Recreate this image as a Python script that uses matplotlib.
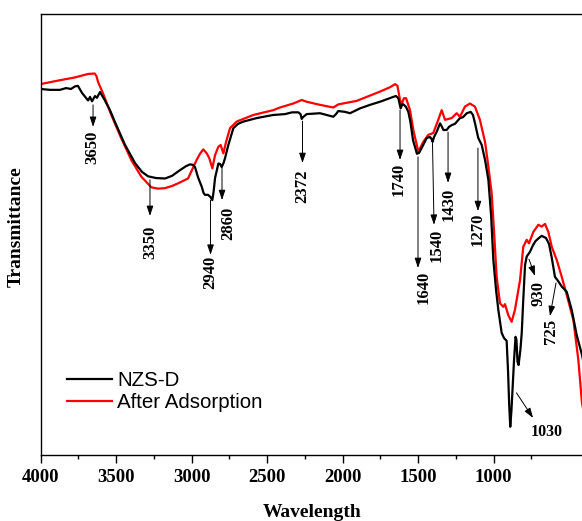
import numpy as np
import matplotlib.pyplot as plt

# FTIR spectra (wavenumber in cm-1, transmittance in arbitrary units)
wn_nzs = [4000, 3937, 3871, 3831, 3798, 3771, 3752, 3725, 3699, 3685, 3672, 3659,
          3639, 3626, 3606, 3575, 3540, 3507, 3440, 3374, 3328, 3288, 3235, 3175,
          3129, 3076, 3036, 3010, 2990, 2977, 2957, 2932, 2920, 2911, 2891, 2874,
          2862, 2854, 2844, 2822, 2811, 2800, 2788, 2778, 2756, 2723, 2692, 2657,
          2568, 2460, 2381, 2334, 2293, 2278, 2270, 2262, 2237, 2149, 2061, 2043,
          2028, 1983, 1950, 1884, 1818, 1752, 1705, 1664, 1646, 1630, 1615, 1603,
          1593, 1579, 1564, 1550, 1533, 1507, 1493, 1476, 1442, 1420, 1411, 1403,
          1394, 1376, 1354, 1341, 1332, 1310, 1295, 1277, 1255, 1222, 1202, 1177,
          1151, 1136, 1123, 1101, 1078, 1056, 1034, 1016, 1001, 983, 968, 946,
          930, 913, 904, 896, 889, 881, 873, 864, 854, 848, 841, 834, 822, 813,
          803, 791, 780, 758, 738, 722, 703, 681, 670, 652, 632, 614, 593, 573,
          548, 515, 482, 449, 414, 400]
t_nzs = [83.0, 82.8, 82.8, 83.2, 83.0, 83.6, 83.7, 82.1, 81.0, 80.4, 81.2, 80.2,
         81.4, 81.0, 82.3, 80.5, 78.2, 75.5, 70.3, 66.2, 64.2, 63.2, 62.8, 62.7,
         63.3, 64.6, 65.5, 65.9, 65.8, 65.3, 63.0, 60.8, 59.4, 59.0, 59.0, 58.5,
         57.8, 59.6, 62.8, 66.1, 66.0, 65.3, 66.2, 67.3, 70.3, 74.1, 75.1, 75.6,
         76.4, 77.1, 77.3, 77.7, 77.7, 77.3, 76.2, 76.6, 77.3, 77.5, 76.7, 77.3,
         78.0, 77.8, 77.5, 78.6, 79.4, 80.1, 80.7, 81.2, 81.4, 80.9, 78.6, 79.6,
         79.4, 78.9, 77.8, 75.5, 71.4, 68.3, 68.5, 69.6, 71.9, 72.1, 71.7, 71.0,
         72.1, 73.3, 75.2, 74.4, 73.7, 73.7, 74.4, 74.8, 75.1, 76.4, 76.6, 77.5,
         77.8, 77.1, 75.3, 71.9, 70.3, 66.9, 62.4, 54.4, 44.2, 37.4, 32.9, 27.7,
         26.5, 25.9, 19.3, 11.3, 6.4, 10.2, 15.5, 21.5, 26.8, 26.1, 21.1, 20.4,
         23.8, 27.7, 35.1, 43.1, 45.0, 46.1, 47.6, 48.5, 49.1, 49.7, 49.5, 49.2,
         47.8, 44.7, 40.4, 39.5, 38.2, 37.0, 32.9, 27.2, 22.7, 20.4]

wn_ads = [4000, 3884, 3774, 3685, 3641, 3629, 3619, 3586, 3531, 3465, 3399, 3332,
          3266, 3222, 3177, 3129, 3089, 3023, 2966, 2944, 2922, 2899, 2882, 2862,
          2844, 2822, 2807, 2789, 2771, 2745, 2701, 2591, 2458, 2414, 2326, 2270,
          2237, 2149, 2061, 2028, 1906, 1862, 1752, 1685, 1652, 1636, 1619, 1608,
          1593, 1579, 1553, 1531, 1498, 1465, 1432, 1399, 1366, 1343, 1321, 1277,
          1244, 1222, 1189, 1156, 1123, 1090, 1056, 1034, 1012, 997, 979, 957,
          935, 924, 902, 880, 858, 824, 803, 780, 765, 736, 703, 681, 659, 637,
          614, 581, 548, 515, 471, 438, 414, 400]
t_ads = [84.1, 84.9, 85.6, 86.4, 86.5, 85.9, 84.6, 82.0, 77.1, 71.8, 66.9, 63.1,
         60.7, 60.4, 60.5, 61.0, 61.6, 62.7, 66.9, 68.3, 69.3, 68.4, 67.3, 65.0,
         68.0, 69.9, 70.3, 68.4, 71.0, 74.1, 75.6, 77.1, 78.2, 78.8, 79.7, 80.5,
         80.1, 79.4, 78.8, 79.5, 80.3, 80.9, 82.4, 83.4, 84.1, 83.7, 80.5, 79.6,
         80.9, 80.9, 78.2, 73.7, 68.8, 71.0, 72.6, 73.0, 76.0, 78.2, 76.0, 76.4,
         77.5, 76.7, 79.0, 79.7, 79.0, 76.0, 71.0, 65.4, 59.3, 51.0, 40.4, 34.4,
         33.6, 34.2, 31.7, 30.2, 32.9, 39.7, 47.2, 48.8, 48.0, 50.6, 52.2, 51.8,
         52.4, 50.6, 47.2, 44.2, 40.4, 36.3, 30.6, 21.5, 11.8, 9.1]

# peak labels: text, arrow start (x, y), arrow end (x, y), text position (x, y), rotation
peak_labels = ["3650", "3350", "2940", "2860", "2372", "1740", "1640",
               "1540", "1430", "1270", "930", "725", "1030"]
arrow_start = [(3652, 79.4), (3275, 62.4), (2874, 57.8), (2798, 65.1), (2265, 75.7),
               (1619, 78.2), (1500, 67.6), (1404, 70.7), (1301, 73.2), (1103, 69.6),
               (765, 44.4), (586, 39.0), (848, 14.1)]
arrow_end = [(3652, 74.4), (3275, 54.2), (2874, 45.4), (2798, 57.8), (2265, 66.2),
             (1619, 66.9), (1500, 42.4), (1394, 52.2), (1301, 61.7), (1103, 55.3),
             (725, 40.6), (626, 31.5), (738, 8.4)]
label_pos = [(3659, 69.8), (3275, 48.3), (2877, 41.5), (2758, 52.6), (2268, 61.0),
             (1626, 62.6), (1460, 37.9), (1374, 47.6), (1295, 56.9), (1103, 51.2),
             (702, 36.7), (619, 28.1), (646, 5.2)]
label_rot = [90] * 12 + [0]

SERIF = "Liberation Serif"

fig = plt.figure(figsize=(5.82, 5.21), dpi=100)
ax = fig.add_axes([40.5 / 582, 66 / 521, 543.6 / 582, 441 / 521])

ax.plot(wn_nzs, t_nzs, color="black", lw=1.6, label="NZS-D", zorder=3)
ax.plot(wn_ads, t_ads, color="#ff0000", lw=1.6, label="After Adsorption", zorder=2)

for lab, s, e, p, r in zip(peak_labels, arrow_start, arrow_end, label_pos, label_rot):
    ax.annotate("", xy=e, xytext=s,
                arrowprops=dict(arrowstyle="-|>,head_length=0.6,head_width=0.2",
                                color="black", lw=0.7, shrinkA=0, shrinkB=0))
    ax.text(p[0], p[1], lab, rotation=r, ha="center", va="center",
            fontsize=12 if r else 11.5, fontweight="bold", family=SERIF)

ax.set_xlim(4000, 400)
ax.set_ylim(0, 100)
ax.set_xticks([4000, 3500, 3000, 2500, 2000, 1500, 1000])
ax.set_xticks([3750, 3250, 2750, 2250, 1750, 1250, 750], minor=True)
ax.set_yticks([])
ax.tick_params(axis="x", which="major", direction="out", length=6, width=1, pad=4)
ax.tick_params(axis="x", which="minor", direction="out", length=3, width=1)
for lbl in ax.get_xticklabels():
    lbl.set_family(SERIF)
    lbl.set_fontweight("bold")
    lbl.set_fontsize(13.5)
for sp in ax.spines.values():
    sp.set_linewidth(1.0)

ax.set_xlabel("Wavelength", family=SERIF, fontweight="bold", fontsize=14, labelpad=13)
ax.set_ylabel("Transmittance", family=SERIF, fontweight="bold", fontsize=14)
ax.yaxis.set_label_coords(-0.03, 0.517)

leg = ax.legend(loc="upper left", bbox_to_anchor=(0.0487, 0.19), frameon=False,
                borderpad=0, borderaxespad=0, handlelength=2.2, handletextpad=0.25,
                labelspacing=0.15, prop={"family": "Liberation Sans", "size": 14.8})

fig.savefig("out.png", dpi=100)
